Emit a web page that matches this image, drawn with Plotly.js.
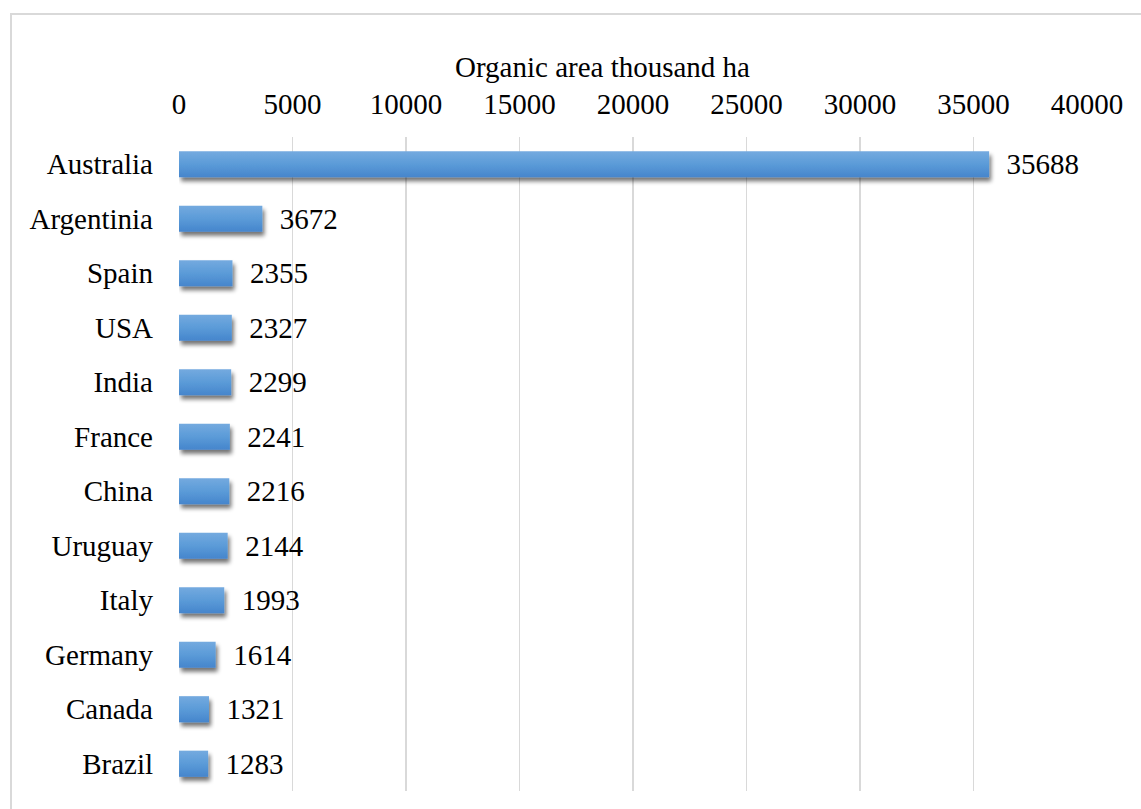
<!DOCTYPE html>
<html>
<head>
<meta charset="utf-8">
<script src="https://cdn.plot.ly/plotly-3.0.1.min.js"></script>
<style>
  html, body { margin: 0; padding: 0; background: #ffffff; }
  #wrap { position: relative; width: 1141px; height: 809px; overflow: hidden; }
  #chart { position: absolute; left: 0; top: 0; width: 1141px; height: 809px; }
  #frame { position: absolute; left: 10px; top: 13px; width: 1200px; height: 900px;
           border-left: 2px solid #d9d9d9; border-top: 2px solid #d9d9d9; pointer-events: none; }
</style>
</head>
<body>
<div id="wrap">
  <div id="chart"></div>
  <div id="frame"></div>
</div>
<script>
// Countries with the largest organic agricultural area (thousand ha)
const countries = ["Australia", "Argentinia", "Spain", "USA", "India", "France",
                   "China", "Uruguay", "Italy", "Germany", "Canada", "Brazil"];
const areaThousandHa = [35688, 3672, 2355, 2327, 2299, 2241,
                        2216, 2144, 1993, 1614, 1321, 1283];
const tickValues = [0, 5000, 10000, 15000, 20000, 25000, 30000, 35000, 40000];
const axisTitle = "Organic area thousand ha";

const serif = "'Liberation Serif', 'Times New Roman', serif";
const fontSize = 29;

const trace = {
  type: "bar",
  orientation: "h",
  x: areaThousandHa,
  y: countries,
  text: areaThousandHa.map(v => "\u00a0\u00a0" + v),
  textposition: "outside",
  constraintext: "none",
  cliponaxis: false,
  textfont: { family: serif, size: fontSize, color: "#000000" },
  marker: { color: "#5b9bd5", line: { width: 0 } },
  hoverinfo: "skip"
};

const layout = {
  width: 1141,
  height: 809,
  margin: { l: 179, r: 54, t: 137, b: 18 },
  paper_bgcolor: "rgba(0,0,0,0)",
  plot_bgcolor: "rgba(0,0,0,0)",
  bargap: 0.52,
  showlegend: false,
  font: { family: serif, size: fontSize, color: "#000000" },
  xaxis: {
    side: "top",
    range: [0, 40000],
    tickvals: tickValues,
    ticktext: tickValues.map(String),
    showgrid: true,
    gridcolor: "#d9d9d9",
    gridwidth: 1.3,
    zeroline: false,
    showline: false,
    ticks: "",
    ticklabelstandoff: 16,
    tickfont: { family: serif, size: fontSize, color: "#000000" },
    automargin: false,
    fixedrange: true
  },
  yaxis: {
    type: "category",
    autorange: "reversed",
    showgrid: false,
    zeroline: false,
    showline: false,
    ticks: "",
    ticklabelstandoff: 25,
    tickfont: { family: serif, size: fontSize, color: "#000000" },
    automargin: false,
    fixedrange: true
  },
  // axis title, centred over the whole chart area rather than the plot area
  annotations: [{
    text: axisTitle,
    xref: "paper", yref: "paper",
    x: 0.466, y: 1, yshift: 70,
    xanchor: "center", yanchor: "middle",
    showarrow: false,
    font: { family: serif, size: fontSize, color: "#000000" }
  }]
};

Plotly.newPlot("chart", [trace], layout, { displayModeBar: false, staticPlot: true }).then(gd => {
  // vertical blue gradient and a soft drop shadow for the bars
  const svgNS = "http://www.w3.org/2000/svg";
  const svg = gd.querySelector("svg.main-svg");
  const defs = document.createElementNS(svgNS, "defs");
  defs.innerHTML =
    '<linearGradient id="barFill" x1="0" y1="0" x2="0" y2="1">' +
      '<stop offset="0" stop-color="#74aadf"/>' +
      '<stop offset="0.5" stop-color="#5b9bd8"/>' +
      '<stop offset="1" stop-color="#4585cc"/>' +
    '</linearGradient>' +
    '<filter id="barShadow" x="-10%" y="-40%" width="130%" height="200%">' +
      '<feGaussianBlur in="SourceAlpha" stdDeviation="2.2"/>' +
      '<feOffset dx="2" dy="3.5" result="off"/>' +
      '<feComponentTransfer><feFuncA type="linear" slope="0.55"/></feComponentTransfer>' +
      '<feMerge><feMergeNode/><feMergeNode in="SourceGraphic"/></feMerge>' +
    '</filter>';
  svg.insertBefore(defs, svg.firstChild);
  gd.querySelectorAll(".bars .point path").forEach(p => {
    p.style.fill = "url(#barFill)";
    p.setAttribute("filter", "url(#barShadow)");
  });
});
</script>
</body>
</html>
